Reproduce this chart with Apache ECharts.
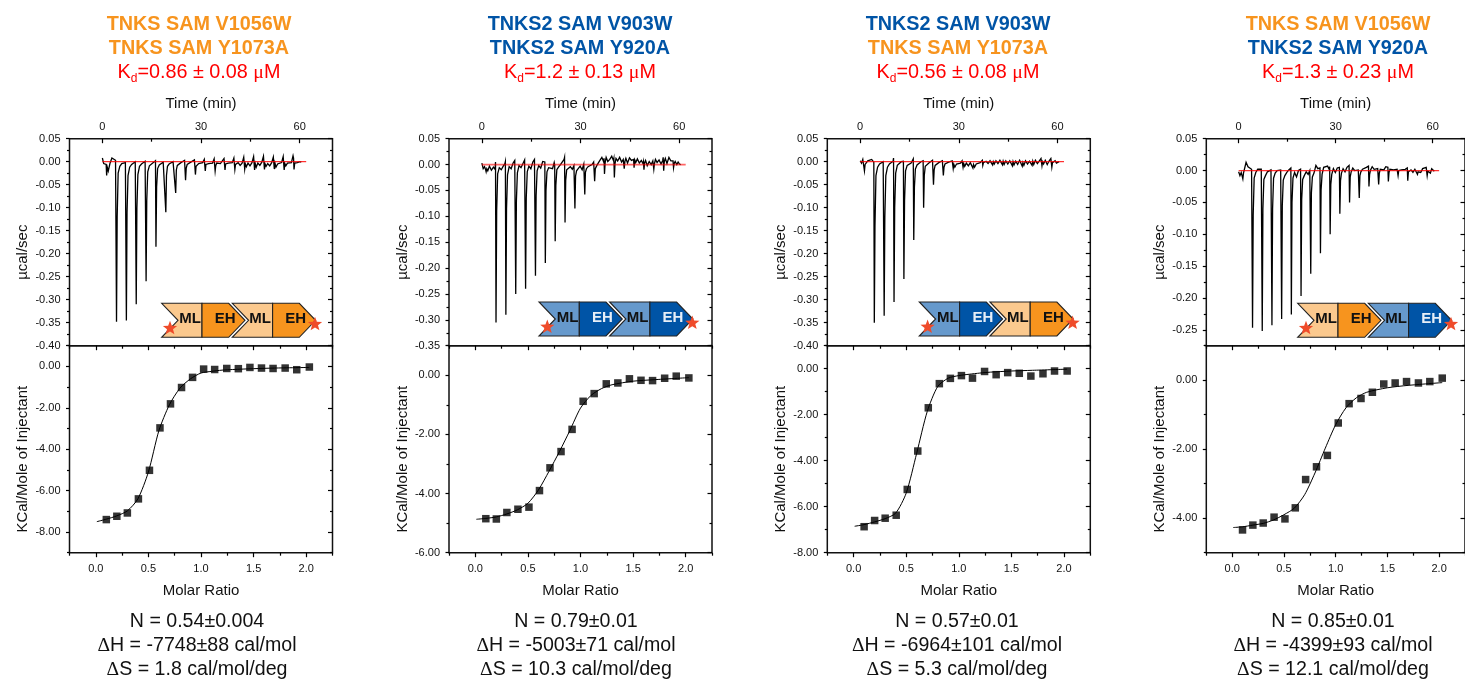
<!DOCTYPE html>
<html><head><meta charset="utf-8">
<style>html,body{margin:0;padding:0;background:#fff;overflow:hidden}#c{width:1465px;height:679px}</style>
<script src="https://cdn.jsdelivr.net/npm/echarts@6/dist/echarts.min.js"></script>
</head><body><div id="c"></div>
<script>
// ---------- DATA ----------
const titleLine1 = ['TNKS SAM V1056W','TNKS2 SAM V903W','TNKS2 SAM V903W','TNKS SAM V1056W'];
const titleLine2 = ['TNKS SAM Y1073A','TNKS2 SAM Y920A','TNKS SAM Y1073A','TNKS2 SAM Y920A'];
const kdText = ['0.86 ± 0.08','1.2 ± 0.13','0.56 ± 0.08','1.3 ± 0.23'];
const nText = ['N = 0.54±0.004','N = 0.79±0.01','N = 0.57±0.01','N = 0.85±0.01'];
const dhText = ['-7748±88 cal/mol','-5003±71 cal/mol','-6964±101 cal/mol','-4399±93 cal/mol'];
const dsText = ['1.8 cal/mol/deg','10.3 cal/mol/deg','5.3 cal/mol/deg','12.1 cal/mol/deg'];

const thermoTime = [0,0.4,0.8,
1.15,1.3,1.5,1.8,2.3,2.9,3.5,4.0, 4.15,4.3,4.5,4.8,5.3,5.9,6.5,7.0,
7.15,7.3,7.5,7.8,8.3,8.9,9.5,10.0, 10.15,10.3,10.5,10.8,11.3,11.9,12.5,13.0,
13.15,13.3,13.5,13.8,14.3,14.9,15.5,16.0, 16.15,16.3,16.5,16.8,17.3,17.9,18.5,19.0,
19.15,19.3,19.5,19.8,20.3,20.9,21.5,22.0, 22.15,22.3,22.5,22.8,23.3,23.9,24.5,25.0,
25.15,25.3,25.5,25.8,26.3,26.9,27.5,28.0, 28.15,28.3,28.5,28.8,29.3,29.9,30.5,31.0,
31.15,31.3,31.5,31.8,32.3,32.9,33.5,34.0, 34.15,34.3,34.5,34.8,35.3,35.9,36.5,37.0,
37.15,37.3,37.5,37.8,38.3,38.9,39.5,40.0, 40.15,40.3,40.5,40.8,41.3,41.9,42.5,43.0,
43.15,43.3,43.5,43.8,44.3,44.9,45.5,46.0, 46.15,46.3,46.5,46.8,47.3,47.9,48.5,49.0,
49.15,49.3,49.5,49.8,50.3,50.9,51.5,52.0, 52.15,52.3,52.5,52.8,53.3,53.9,54.5,55.0,
55.15,55.3,55.5,55.8,56.3,56.9,57.5,58.0, 58.15,58.3,58.5,58.8,59.3,59.7,60.1,60.5];

// thermogram power, in thousandths of a µcal/sec
const heat1Milli = [8,-4,-6,
-6,-30,-12,-20,-4,8,6,3, 2,-348,-120,-25,-10,-4,-3,-2,
2,-345,-110,-30,-12,-6,-2,0, 1,-310,-100,-28,-10,-5,-2,1,
1,-260,-85,-22,-9,-5,-2,-1, 2,-185,-55,-15,-7,-3,-1,1,
2,-110,-30,-10,-5,-3,0,2, 3,-68,-18,-8,-4,-2,1,3,
4,-40,-14,-6,-3,-1,0,4, 5,-28,-10,-6,-4,-3,-2,5,
7,-20,-6,-10,-4,-6,-3,6, 6,-20,-8,-3,-7,-4,-2,7,
8,-18,-5,-9,-3,-7,-2,8, 9,-17,-6,-10,-2,-8,-3,10,
10,-16,-5,-11,-3,-9,-2,11, 11,-18,-4,-12,-3,-8,-1,12,
13,-17,-5,-10,-4,-9,-2,10, 12,-16,-3,-12,-5,-8,-2,11,
13,-18,-4,-9,-3,-7,-2,13, 8,-17,-3,-6,-2,-4,0,-1];
const heat2Milli = [3,-8,-4,
-10,-14,-8,-12,-3,-11,-5,-9, 5,-305,-90,-18,-6,-10,-3,2,
6,-290,-85,-20,-4,-8,3,8, 8,-250,-70,-16,-2,-6,2,9,
10,-240,-65,-14,-3,-8,5,10, 9,-215,-60,-12,-2,-7,6,4,
5,-190,-50,-14,-6,-3,-8,4, -1,-148,-40,-10,-5,0,-3,10,
14,-112,-30,-10,-12,-4,-9,-2, -4,-85,-22,-12,-8,-3,-10,1,
2,-58,-15,-8,-4,-6,0,5, 3,-32,-8,-4,2,8,14,6,
12,-18,4,14,6,10,16,8, 12,-25,2,12,7,14,5,10,
13,-8,6,12,3,13,8,5, 10,-6,9,4,11,3,8,2,
6,-10,3,8,-2,6,0,7, 8,-9,2,10,4,9,1,8,
14,-12,6,12,2,14,7,4, 7,-6,2,6,0,5,1,0];
const heat3Milli = [2,-3,5,
3,-20,-6,-10,2,6,5,3, -1,-350,-140,-30,-12,-5,-1,0,
1,-335,-120,-30,-12,-5,-3,1, 8,-305,-100,-25,-8,-4,0,4,
1,-255,-85,-20,-8,-5,-3,-2, 6,-170,-55,-16,-7,-3,0,4,
2,-100,-30,-10,-6,-3,0,3, 3,-50,-18,-8,-4,-2,1,2,
3,-30,-12,-5,-2,-1,0,2, 2,-15,-6,-12,-5,-8,-3,2,
1,-12,-4,-10,-3,-9,-2,1, 1,-14,-6,-12,-5,-7,-2,1,
3,-8,-2,-6,1,-4,2,3, 4,-7,0,-5,2,-4,3,4,
3,-7,1,-6,2,-5,2,3, 4,-9,0,-7,1,-6,3,4,
5,-10,-2,-8,2,-5,1,5, 6,-8,1,-6,3,-4,2,7,
8,-9,0,-5,3,-6,2,7, 5,-12,-2,-4,2,-3,1,0];
const heat4Milli = [-2,-8,-3,
-5,-13,-4,-2,13,6,4,2, 1,-247,-70,-12,-3,2,3,2,
3,-252,-60,-14,-8,-2,0,1, 2,-243,-60,-12,-4,0,2,1,
3,-233,-55,-15,-8,-3,1,2, 4,-226,-50,-12,-3,-10,0,1,
2,-197,-45,-14,-8,-2,-6,0, 3,-162,-35,-10,-4,8,3,6,
4,-130,-30,-6,5,3,7,2, 6,-100,-22,-6,3,-3,4,2,
5,-68,-16,-4,3,-2,5,3, 8,-50,-10,-2,4,0,3,1,
3,-43,-8,-2,2,-1,5,2, 7,-25,-6,1,6,2,4,3,
5,-22,-4,2,5,1,6,3, 5,-17,-3,2,4,1,3,2,
4,-8,0,3,1,4,2,3, 4,-16,-2,-2,1,-3,2,3,
3,-6,-2,1,-3,3,1,5, 4,-8,-1,2,-4,3,0,-1];

const baselineTime = [0,62];
const baselineValue = [0,0];

const molarRatio = [0.10,0.20,0.30,0.405,0.51,0.61,0.71,0.815,0.92,1.025,1.13,1.245,1.355,1.465,1.575,1.685,1.80,1.91,2.03];
const enthalpy1 = [-7.40,-7.24,-7.08,-6.40,-5.02,-2.97,-1.81,-1.02,-0.53,-0.13,-0.15,-0.10,-0.11,-0.05,-0.08,-0.10,-0.08,-0.16,-0.03];
const enthalpy2 = [-4.85,-4.86,-4.64,-4.53,-4.46,-3.90,-3.13,-2.58,-1.83,-0.88,-0.62,-0.29,-0.26,-0.12,-0.17,-0.18,-0.10,-0.03,-0.09];
const enthalpy3 = [-6.87,-6.60,-6.50,-6.37,-5.25,-3.58,-1.70,-0.65,-0.42,-0.30,-0.41,-0.12,-0.26,-0.17,-0.20,-0.32,-0.22,-0.10,-0.10];
const enthalpy4 = [-4.34,-4.20,-4.14,-3.97,-4.02,-3.70,-2.88,-2.51,-2.18,-1.24,-0.68,-0.53,-0.35,-0.11,-0.08,-0.04,-0.08,-0.04,0.06];

const fitRatio = [0.01,0.1,0.2,0.3,0.4,0.5,0.6,0.7,0.8,0.9,1.0,1.1,1.2,1.3,1.5,1.7,2.03];
const fit1 = [-7.50,-7.38,-7.22,-6.98,-6.40,-5.10,-3.10,-1.85,-1.05,-0.60,-0.32,-0.24,-0.18,-0.15,-0.11,-0.08,-0.05];
const fit2 = [-4.87,-4.84,-4.79,-4.69,-4.55,-4.33,-3.88,-3.25,-2.58,-1.86,-1.11,-0.68,-0.45,-0.32,-0.20,-0.15,-0.08];
const fit3 = [-6.85,-6.78,-6.66,-6.52,-6.28,-5.41,-3.67,-1.86,-0.77,-0.41,-0.30,-0.24,-0.19,-0.15,-0.10,-0.07,-0.02];
const fit4 = [-4.27,-4.25,-4.20,-4.15,-4.05,-3.90,-3.71,-3.32,-2.69,-1.97,-1.29,-0.80,-0.51,-0.35,-0.22,-0.15,-0.07];

// tick positions
const timeMajor = [0,30,60], timeMinor = [15,45];
const ratioMajor = [0,0.5,1,1.5,2], ratioMinor = [-0.25,0.25,0.75,1.25,1.75,2.25];
const powerMajor1 = [0.05,0,-0.05,-0.10,-0.15,-0.20,-0.25,-0.30,-0.35,-0.40];
const powerMinor1 = [0.025,-0.025,-0.075,-0.125,-0.175,-0.225,-0.275,-0.325,-0.375];
const powerMajor2 = [0.05,0,-0.05,-0.10,-0.15,-0.20,-0.25,-0.30,-0.35];
const powerMinor2 = [0.025,-0.025,-0.075,-0.125,-0.175,-0.225,-0.275,-0.325];
const powerMajor4 = [0.05,0,-0.05,-0.10,-0.15,-0.20,-0.25];
const powerMinor4 = [0.025,-0.025,-0.075,-0.125,-0.175,-0.225,-0.275];
const heatMajor1 = [0,-2,-4,-6,-8], heatMinor1 = [1,-1,-3,-5,-7,-9];
const heatMajor2 = [0,-2,-4,-6], heatMinor2 = [1,-1,-3,-5];
const heatMajor3 = [0,-2,-4,-6,-8], heatMinor3 = [1,-1,-3,-5,-7];
const heatMajor4 = [0,-2,-4], heatMinor4 = [1,-1,-3,-5];

// ---------- PANEL CONFIG ----------
const ORANGE='#F7941E', BLUE='#0054A6', LORANGE='#FBC98E', LBLUE='#6699CC';
const panels = [
 {left:69.5,  cx:199, c1:ORANGE, c2:ORANGE, heat:heat1Milli, pr:[-0.40,0.05], pM:powerMajor1, pm:powerMinor1, hr:[-9,1], hM:heatMajor1, hm:heatMinor1, pts:enthalpy1, fit:fit1, sx:161.7, top:303.3, a:[LORANGE,ORANGE], b:[LORANGE,ORANGE], redOp:1, redW:1, statX:197},
 {left:449,   cx:580, c1:BLUE,   c2:BLUE,   heat:heat2Milli, pr:[-0.35,0.05], pM:powerMajor2, pm:powerMinor2, hr:[-6,1], hM:heatMajor2, hm:heatMinor2, pts:enthalpy2, fit:fit2, sx:539,   top:302,   a:[LBLUE,BLUE],     b:[LBLUE,BLUE],     redOp:0.6, redW:1.6, statX:576},
 {left:827.3, cx:958, c1:BLUE,   c2:ORANGE, heat:heat3Milli, pr:[-0.40,0.05], pM:powerMajor1, pm:powerMinor1, hr:[-8,1], hM:heatMajor3, hm:heatMinor3, pts:enthalpy3, fit:fit3, sx:919.3, top:302,   a:[LBLUE,BLUE],     b:[LORANGE,ORANGE], redOp:1, redW:1, statX:957},
 {left:1206.3,cx:1338,c1:ORANGE, c2:BLUE,   heat:heat4Milli, pr:[-0.275,0.05],pM:powerMajor4, pm:powerMinor4, hr:[-5,1], hM:heatMajor4, hm:heatMinor4, pts:enthalpy4, fit:fit4, sx:1297.7,top:303.3, a:[LORANGE,ORANGE], b:[LBLUE,BLUE],     redOp:0.8, redW:1.3, statX:1333}
];
const W=263, H=207, T1=138.7, T2=345.7;
const FONT='"Liberation Sans",Arial,sans-serif';
const SERIF='"Liberation Serif",serif';

const grid=[], xAxis=[], yAxis=[], series=[], title=[], graphic=[];

function tickAxis(list, o){
  const a={type:'value', gridIndex:o.g, position:o.pos, min:o.min, max:o.max, silent:true,
    axisLine:{show:false,onZero:false}, splitLine:{show:false}, minorTick:{show:false},
    axisTick:{show:true, customValues:o.ticks, inside:!!o.inside, length:o.len, lineStyle:{color:'#000',width:1.2}},
    axisLabel:{show:false}};
  if(o.labels){
    a.axisLabel={show:true, customValues:o.labels, margin:o.margin, fontFamily:FONT, fontSize:11, color:'#111',
      formatter:o.fmt, hideOverlap:false, showMinLabel:true, showMaxLabel:true};
  }
  if(o.name){
    a.name=o.name; a.nameLocation='middle'; a.nameGap=o.gap;
    a.nameTextStyle={fontFamily:FONT,fontSize:15,color:'#111',padding:o.pad||0};
  }
  list.push(a); return list.length-1;
}

function fullAxes(g,xr,xM,xm,yr,yM,ym,cfg){
  let xi;
  if(cfg.top){ // upper panel: labelled top axis, inward ticks
    xi=tickAxis(xAxis,{g,pos:'top',min:xr[0],max:xr[1],ticks:xM,inside:true,len:4.5,labels:xM,margin:6,fmt:v=>String(v),name:cfg.xName,gap:cfg.xGap});
    tickAxis(xAxis,{g,pos:'top',min:xr[0],max:xr[1],ticks:xm,inside:true,len:3});
  } else {     // lower panel: labelled bottom axis, plus inward ticks along top
    xi=tickAxis(xAxis,{g,pos:'bottom',min:xr[0],max:xr[1],ticks:xM,inside:false,len:4.5,labels:xM,margin:10.5,fmt:v=>v.toFixed(1),name:cfg.xName,gap:cfg.xGap});
    tickAxis(xAxis,{g,pos:'bottom',min:xr[0],max:xr[1],ticks:xm,inside:false,len:3});
    tickAxis(xAxis,{g,pos:'top',min:xr[0],max:xr[1],ticks:xM,inside:true,len:4.5});
    tickAxis(xAxis,{g,pos:'top',min:xr[0],max:xr[1],ticks:xm,inside:true,len:3});
  }
  const yi=tickAxis(yAxis,{g,pos:'left',min:yr[0],max:yr[1],ticks:yM,inside:false,len:3.5,labels:yM,margin:9,fmt:v=>v.toFixed(2),name:cfg.yName,gap:cfg.yGap,pad:[0,20,0,0]});
  tickAxis(yAxis,{g,pos:'left',min:yr[0],max:yr[1],ticks:ym,inside:false,len:2.5});
  tickAxis(yAxis,{g,pos:'right',min:yr[0],max:yr[1],ticks:yM,inside:true,len:4.5});
  tickAxis(yAxis,{g,pos:'right',min:yr[0],max:yr[1],ticks:ym,inside:true,len:2.5});
  return {xi,yi};
}

function polygon(points,fill,stroke,z){
  return {type:'polygon',silent:true,z:z||50,shape:{points},style:{fill,stroke:stroke||'#222',lineWidth:1.1,lineJoin:'miter'}};
}
function label(x,y,text,fill){
  return {type:'text',silent:true,z:52,x,y,style:{text,x:0,y:0,fill,font:'bold 15px '+FONT,align:'center',verticalAlign:'middle'}};
}
function star(cx,cy,R){
  const pts=[];
  for(let k=0;k<10;k++){
    const r=k%2?R*0.42:R, ang=-Math.PI/2+k*Math.PI/5;
    pts.push([cx+r*Math.cos(ang),cy+r*Math.sin(ang)]);
  }
  return {type:'polygon',silent:true,z:53,shape:{points:pts},style:{fill:'#EF4B2A',stroke:null}};
}
function chevron(sx,ty,ox,cols){
  const h=34,m=17,x=sx+ox;
  return [
    polygon([[x,ty],[x+40.3,ty],[x+40.3,ty+h],[x,ty+h],[x+16.3,ty+m]],cols[0],null,50),
    polygon([[x+40.3,ty],[x+67,ty],[x+83.3,ty+m],[x+67,ty+h],[x+40.3,ty+h]],cols[1],null,50)
  ];
}

panels.forEach((p,i)=>{
  const gU=grid.length;
  grid.push({left:p.left,top:T1,width:W,height:H,show:true,borderColor:'#111',borderWidth:1.5,backgroundColor:'transparent'});
  const gL=grid.length;
  grid.push({left:p.left,top:T2,width:W,height:H,show:true,borderColor:'#111',borderWidth:1.5,backgroundColor:'transparent'});

  const u=fullAxes(gU,[-10,70],timeMajor,timeMinor,p.pr,p.pM,p.pm,{top:true,xName:'Time (min)',xGap:27,yName:'µcal/sec',yGap:39});
  const l=fullAxes(gL,[-0.25,2.25],ratioMajor,ratioMinor,p.hr,p.hM,p.hm,{top:false,xName:'Molar Ratio',xGap:31,yName:'KCal/Mole of Injectant',yGap:39});

  series.push({type:'line',name:'thermogram '+(i+1),xAxisIndex:u.xi,yAxisIndex:u.yi,showSymbol:false,symbol:'none',
    lineStyle:{color:'#000',width:1.3,join:'miter'},silent:true,data:thermoTime.map((t,k)=>[t,p.heat[k]/1000]),z:3});
  series.push({type:'line',name:'baseline '+(i+1),xAxisIndex:u.xi,yAxisIndex:u.yi,showSymbol:false,symbol:'none',
    lineStyle:{color:'#FF0000',width:p.redW,opacity:p.redOp},silent:true,data:baselineTime.map((t,k)=>[t,baselineValue[k]]),z:4});
  series.push({type:'line',name:'fit '+(i+1),xAxisIndex:l.xi,yAxisIndex:l.yi,showSymbol:false,symbol:'none',smooth:0.25,
    lineStyle:{color:'#000',width:1},silent:true,data:fitRatio.map((x,k)=>[x,p.fit[k]]),z:3});
  series.push({type:'scatter',name:'points '+(i+1),xAxisIndex:l.xi,yAxisIndex:l.yi,symbol:'rect',symbolSize:7.5,
    itemStyle:{color:'#000'},silent:true,data:molarRatio.map((x,k)=>[x,p.pts[k]]),z:4});

  title.push({left:p.cx,top:13,padding:0,textAlign:'center',text:
    `{a|${titleLine1[i]}}\n{b|${titleLine2[i]}}\n{r|K}{s|d}{r|=${kdText[i]} }{m|μ}{r|M}`,
    textStyle:{fontWeight:'normal',rich:{
      a:{fontFamily:FONT,fontWeight:'bold',fontSize:19.8,color:p.c1,lineHeight:24,align:'center'},
      b:{fontFamily:FONT,fontWeight:'bold',fontSize:19.8,color:p.c2,lineHeight:24,align:'center'},
      r:{fontFamily:FONT,fontWeight:'normal',fontSize:19.8,color:'#FF0000',lineHeight:24},
      s:{fontFamily:FONT,fontWeight:'normal',fontSize:12,color:'#FF0000',lineHeight:24,verticalAlign:'bottom',padding:[9,0,0,0]},
      m:{fontFamily:SERIF,fontWeight:'normal',fontSize:19.8,color:'#FF0000',lineHeight:24}
    }}});
  title.push({left:p.statX,top:609.5,padding:0,textAlign:'center',text:
    `{t|${nText[i]}}\n{d|Δ}{t|H = ${dhText[i]}}\n{d|Δ}{t|S = ${dsText[i]}}`,
    textStyle:{fontWeight:'normal',rich:{
      t:{fontFamily:FONT,fontWeight:'normal',fontSize:19.6,color:'#111',lineHeight:24},
      d:{fontFamily:SERIF,fontWeight:'normal',fontSize:19.6,color:'#111',lineHeight:24}
    }}});

  graphic.push(...chevron(p.sx,p.top,0,p.a),...chevron(p.sx,p.top,70.6,p.b));
  const dark=c=>c===BLUE?'#E6EEF7':'#111';
  graphic.push(label(p.sx+28.5,p.top+16,'ML','#111'),label(p.sx+63.5,p.top+16,'EH',dark(p.a[1])),
               label(p.sx+98.5,p.top+16,'ML','#111'),label(p.sx+134,p.top+16,'EH',dark(p.b[1])));
  graphic.push(star(p.sx+8.3,p.top+25,7.5),star(p.sx+153.3,p.top+21,7.5));
});

const chart=echarts.init(document.getElementById('c'),null,{renderer:'canvas',width:1465,height:679});
chart.setOption({animation:false,backgroundColor:'#fff',tooltip:{show:false},legend:{show:false},
  title,grid,xAxis,yAxis,series,graphic:{elements:graphic}});
</script>
</body></html>
